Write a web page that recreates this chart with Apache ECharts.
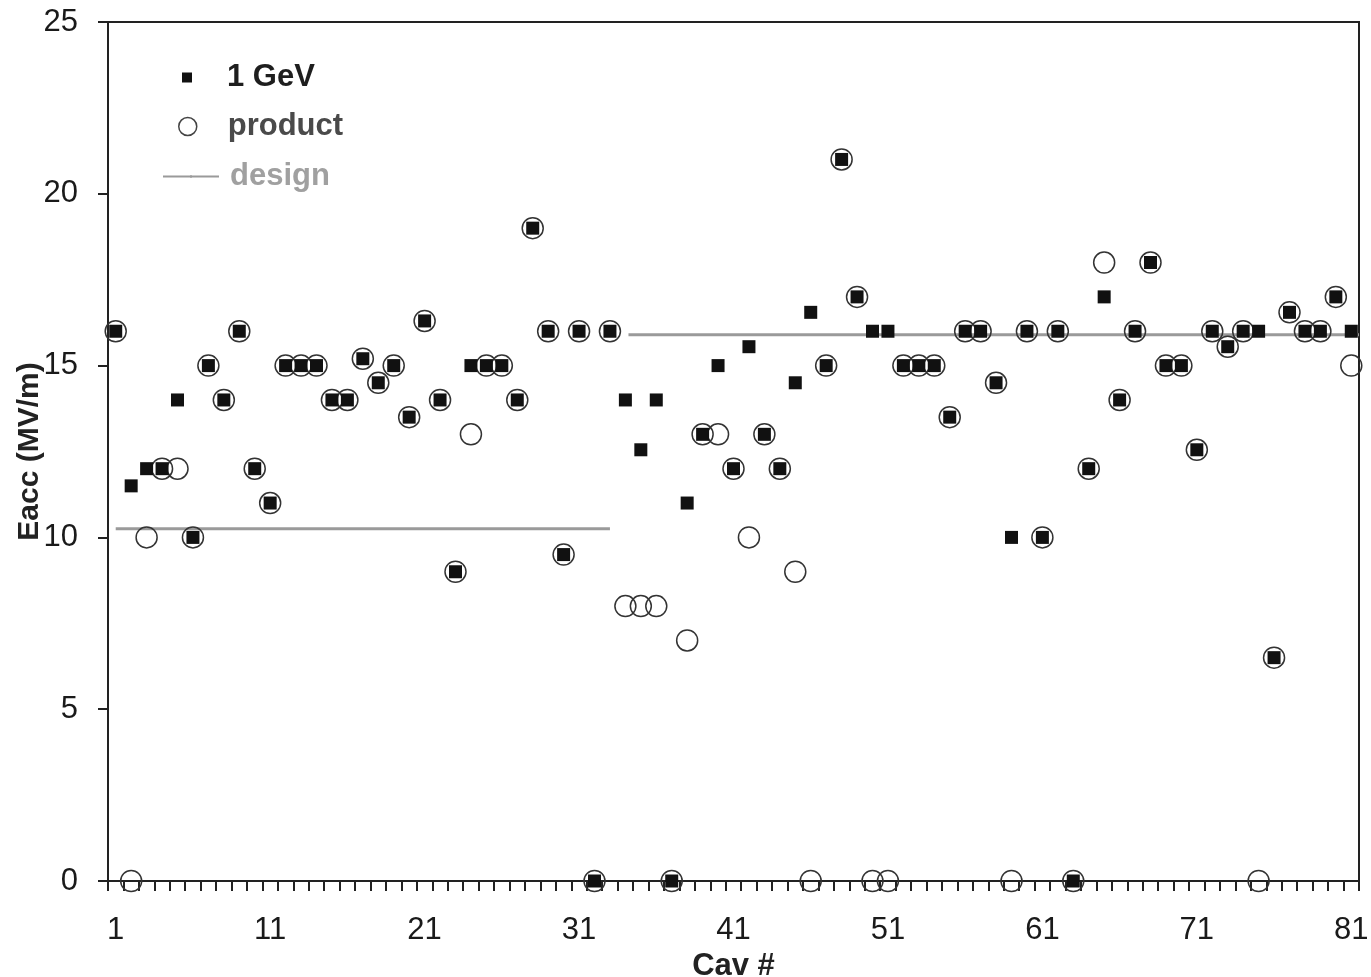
<!DOCTYPE html>
<html>
<head>
<meta charset="utf-8">
<title>Eacc per cavity</title>
<script src="https://cdn.jsdelivr.net/npm/echarts@6/dist/echarts.min.js"></script>
<style>
  html, body { margin: 0; padding: 0; background: #fff; }
  #main { width: 1371px; height: 977px; }
</style>
</head>
<body>
<div id="main"></div>
<script>
// cavity numbers 1..81
var cavs = [];
for (var i = 1; i <= 81; i++) cavs.push(String(i));

// Eacc at 1 GeV, per cavity
var gev1 = [
  16, 11.5, 12, 12, 14, 10, 15, 14, 16, 12,
  11, 15, 15, 15, 14, 14, 15.2, 14.5, 15, 13.5,
  16.3, 14, 9, 15, 15, 15, 14, 19, 16, 9.5,
  16, 0, 16, 14, 12.55, 14, 0, 11, 13, 15,
  12, 15.55, 13, 12, 14.5, 16.55, 15, 21, 17, 16,
  16, 15, 15, 15, 13.5, 16, 16, 14.5, 10, 16,
  10, 16, 0, 12, 17, 14, 16, 18, 15, 15,
  12.55, 16, 15.55, 16, 16, 6.5, 16.55, 16, 16, 17, 16
];

// Eacc product, per cavity
var product = [
  16, 0, 10, 12, 12, 10, 15, 14, 16, 12,
  11, 15, 15, 15, 14, 14, 15.2, 14.5, 15, 13.5,
  16.3, 14, 9, 13, 15, 15, 14, 19, 16, 9.5,
  16, 0, 16, 8, 8, 8, 0, 7, 13, 13,
  12, 10, 13, 12, 9, 0, 15, 21, 17, 0,
  0, 15, 15, 15, 13.5, 16, 16, 14.5, 0, 16,
  10, 16, 0, 12, 18, 14, 16, 18, 15, 15,
  12.55, 16, 15.55, 16, 0, 6.5, 16.55, 16, 16, 17, 15
];

// design gradient: two sections (cav range, value)
var designLowX = [1, 33];
var designLowY = 10.25;
var designHighX = [34.2, 81.5];
var designHighY = 15.9;

var yTicks = [0, 5, 10, 15, 20, 25];

var FONT = 'Liberation Sans, Arial, sans-serif';
var chart = echarts.init(document.getElementById('main'));

// legend text pushed right by an empty rich box
function gapText(name) { return '{g| }' + name; }

var option = {
  backgroundColor: '#fff',
  animation: false,
  grid: {
    left: 108, right: 12, top: 22, bottom: 96,
    outerBoundsMode: 'none',
    containLabel: false,
    show: true, borderColor: '#222', borderWidth: 2
  },
  legend: [
    {
      data: ['1 GeV'], left: 182, top: 62, padding: 0, icon: 'rect',
      itemWidth: 10, itemHeight: 10,
      formatter: gapText,
      textStyle: { fontFamily: FONT, fontSize: 31, fontWeight: 'bold', color: '#1e1e1e',
        rich: { g: { width: 30 } } }
    },
    {
      data: ['product'], left: 178, top: 111, padding: 0, icon: 'circle',
      itemWidth: 18, itemHeight: 18,
      itemStyle: { color: 'transparent', borderColor: '#444', borderWidth: 1.5 },
      formatter: gapText,
      textStyle: { fontFamily: FONT, fontSize: 31, fontWeight: 'bold', color: '#4a4a4a',
        rich: { g: { width: 26 } } }
    },
    {
      data: ['design'], left: 162, top: 161, padding: 0,
      itemWidth: 56, itemHeight: 3,
      formatter: gapText,
      textStyle: { fontFamily: FONT, fontSize: 31, fontWeight: 'bold', color: '#a0a0a0',
        rich: { g: { width: 6 } } }
    }
  ],
  xAxis: [
    {
      type: 'category',
      data: cavs,
      boundaryGap: true,
      name: 'Cav #',
      nameLocation: 'middle',
      nameGap: 64,
      nameTextStyle: { fontFamily: FONT, fontSize: 31, fontWeight: 'bold', color: '#222' },
      axisLine: { lineStyle: { color: '#222', width: 2 } },
      axisTick: { show: true, interval: 0, length: 10, lineStyle: { color: '#222', width: 2 } },
      axisLabel: { interval: 9, margin: 34, fontFamily: FONT, fontSize: 31, color: '#1a1a1a' },
      splitLine: { show: false }
    },
    {
      type: 'value', min: 0.5, max: 81.5, show: false
    }
  ],
  yAxis: {
    type: 'value',
    min: yTicks[0], max: yTicks[yTicks.length - 1], interval: 5,
    name: 'Eacc (MV/m)',
    nameLocation: 'middle',
    nameRotate: 90,
    nameMoveOverlap: false,
    nameGap: 63,
    nameTextStyle: { fontFamily: FONT, fontSize: 30, fontWeight: 'bold', color: '#222' },
    axisLine: { show: true, lineStyle: { color: '#222', width: 2 } },
    axisTick: { show: true, length: 10, lineStyle: { color: '#222', width: 2 } },
    axisLabel: { margin: 30, fontFamily: FONT, fontSize: 31, color: '#1a1a1a' },
    splitLine: { show: false }
  },
  series: [
    {
      name: 'design', type: 'line', xAxisIndex: 1,
      data: [[designLowX[0], designLowY], [designLowX[1], designLowY]],
      symbol: 'none', lineStyle: { color: '#9a9a9a', width: 3 },
      itemStyle: { color: '#9a9a9a' }, z: 1
    },
    {
      name: 'design', type: 'line', xAxisIndex: 1,
      data: [[designHighX[0], designHighY], [designHighX[1], designHighY]],
      symbol: 'none', lineStyle: { color: '#9a9a9a', width: 3 },
      itemStyle: { color: '#9a9a9a' }, z: 1
    },
    {
      name: 'product', type: 'scatter',
      data: product,
      symbol: 'circle', symbolSize: 21,
      itemStyle: { color: 'transparent', borderColor: '#333', borderWidth: 1.5, opacity: 1 },
      clip: false, z: 2
    },
    {
      name: '1 GeV', type: 'scatter',
      data: gev1,
      symbol: 'rect', symbolSize: 13,
      itemStyle: { color: '#111', opacity: 1 },
      clip: false, z: 3
    }
  ]
};

chart.setOption(option);
</script>
</body>
</html>
